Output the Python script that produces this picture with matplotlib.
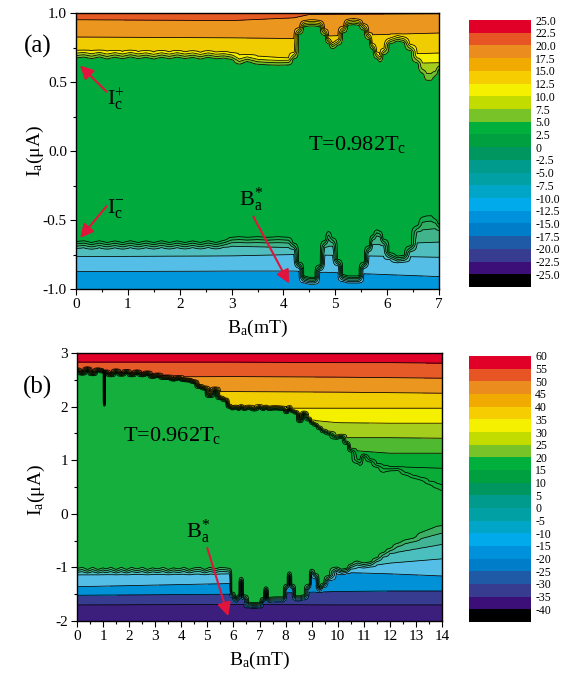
import numpy as np
import matplotlib
matplotlib.use('Agg')
import matplotlib.pyplot as plt
from matplotlib.colors import ListedColormap, BoundaryNorm
from matplotlib.ticker import MultipleLocator, FormatStrFormatter
import matplotlib.cm as cm

plt.rcParams['font.family'] = ['Liberation Serif', 'DejaVu Serif']
plt.rcParams['mathtext.fontset'] = 'custom'
plt.rcParams['mathtext.rm'] = 'Liberation Serif'
plt.rcParams['mathtext.it'] = 'Liberation Serif:italic'
plt.rcParams['axes.unicode_minus'] = False
plt.rcParams['contour.negative_linestyle'] = 'solid'

# ---------------- panel (a): T = 0.982 Tc ----------------
Ba_a = [0.0, 0.15, 0.3, 0.45, 0.6, 0.75, 0.9, 1.05, 1.2, 1.35,
        1.5, 1.65, 1.8, 1.95, 2.1, 2.25, 2.4, 2.55, 2.7, 2.85,
        3.0, 3.15, 3.3, 3.5, 3.7, 3.9, 4.1, 4.2, 4.3, 4.4,
        4.5, 4.6, 4.7, 4.8, 4.87, 4.95, 5.05, 5.15, 5.25, 5.35,
        5.45, 5.55, 5.65, 5.72, 5.8, 5.86, 5.93, 6.05, 6.2, 6.32,
        6.45, 6.58, 6.68, 6.76, 6.85, 6.93, 7.0]
# upper critical current (top edge of the zero-voltage region)
Ic_plus_a = [0.665, 0.672, 0.660, 0.673, 0.658, 0.671, 0.660, 0.673, 0.661, 0.670,
             0.658, 0.671, 0.660, 0.672, 0.661, 0.670, 0.658, 0.671, 0.660, 0.665,
             0.655, 0.62, 0.64, 0.62, 0.615, 0.613, 0.615, 0.66, 0.84, 0.895,
             0.90, 0.90, 0.895, 0.83, 0.77, 0.735, 0.76, 0.85, 0.905, 0.91,
             0.905, 0.87, 0.80, 0.73, 0.66, 0.637, 0.69, 0.77, 0.79, 0.78,
             0.72, 0.63, 0.55, 0.49, 0.49, 0.53, 0.58]
# lower critical current (bottom edge of the zero-voltage region)
Ic_minus_a = [-0.648, -0.642, -0.655, -0.642, -0.655, -0.643, -0.655, -0.642, -0.655, -0.643,
              -0.655, -0.642, -0.655, -0.643, -0.655, -0.643, -0.655, -0.642, -0.655, -0.64,
              -0.615, -0.61, -0.615, -0.61, -0.615, -0.61, -0.615, -0.66, -0.80, -0.90,
              -0.91, -0.91, -0.82, -0.64, -0.57, -0.62, -0.78, -0.89, -0.90, -0.90,
              -0.90, -0.80, -0.68, -0.60, -0.56, -0.57, -0.63, -0.73, -0.755, -0.75,
              -0.68, -0.53, -0.46, -0.45, -0.45, -0.48, -0.52]

# contour line positions in the resistive regions (read at a few fields)
top_B_a = [0.0, 3.0, 4.2, 4.5, 7.0]
top_levels_a = [5.0, 7.5, 10.0, 12.5, 15.0, 17.5, 20.0]
top_lines_a = [[0.645, 0.60, 0.58, 0.56, 0.48],
               [0.66, 0.62, 0.60, 0.59, 0.56],
               [0.68, 0.64, 0.62, 0.62, 0.64],
               [0.73, 0.70, 0.67, 0.68, 0.71],
               [0.826, 0.82, 0.815, 0.83, 0.855],
               [0.951, 0.945, 0.965, 0.99, 0.995],
               [1.10, 1.10, 1.10, 1.10, 1.10]]
bot_B_a = [0.0, 3.0, 4.2, 7.0]
bot_levels_a = [2.5, 0.0, -2.5, -5.0, -7.5, -10.0, -12.5]
bot_lines_a = [[-0.64, -0.60, -0.60, -0.44],
               [-0.66, -0.63, -0.63, -0.50],
               [-0.68, -0.66, -0.66, -0.56],
               [-0.70, -0.69, -0.70, -0.66],
               [-0.765, -0.76, -0.75, -0.77],
               [-0.874, -0.87, -0.87, -0.91],
               [-1.10, -1.10, -1.10, -1.10]]
cbar_ticks_a = [25.0, 22.5, 20.0, 17.5, 15.0, 12.5, 10.0, 7.5, 5.0, 2.5, 0,
                -2.5, -5.0, -7.5, -10.0, -12.5, -15.0, -17.5, -20.0, -22.5, -25.0]

# ---------------- panel (b): T = 0.962 Tc ----------------
Ba_b = [0.0, 0.2, 0.4, 0.6, 0.8, 1.0, 1.05, 1.1, 1.3, 1.5,
        1.7, 1.9, 2.1, 2.3, 2.5, 2.7, 2.9, 3.1, 3.3, 3.5,
        3.7, 3.9, 4.1, 4.3, 4.5, 4.7, 4.9, 5.1, 5.3, 5.5,
        5.7, 5.85, 5.95, 6.1, 6.2, 6.3, 6.4, 6.6, 6.8, 7.0,
        7.15, 7.25, 7.35, 7.6, 7.9, 8.05, 8.15, 8.25, 8.4, 8.55,
        8.7, 8.9, 9.0, 9.15, 9.3, 9.45, 9.65, 9.95, 10.15, 10.35,
        10.5, 10.75, 10.85, 11.0, 11.25, 11.5, 11.75, 12.0, 12.3, 12.6,
        12.9, 13.2, 13.5, 13.8, 14.0]
Ic_plus_b = [2.64, 2.58, 2.66, 2.57, 2.64, 2.62, 2.00, 2.60, 2.55, 2.62,
             2.56, 2.61, 2.55, 2.60, 2.55, 2.58, 2.52, 2.54, 2.50, 2.50,
             2.47, 2.49, 2.46, 2.45, 2.42, 2.33, 2.30, 2.16, 2.28, 2.12,
             2.08, 1.96, 1.93, 1.94, 1.92, 1.95, 1.92, 1.94, 1.91, 1.95,
             1.92, 1.94, 1.92, 1.93, 1.92, 1.86, 1.93, 1.88, 1.85, 1.69,
             1.84, 1.72, 1.66, 1.62, 1.56, 1.50, 1.46, 1.38, 1.40, 1.28,
             1.14, 0.92, 0.88, 1.05, 0.95, 0.85, 0.74, 0.78, 0.79, 0.70,
             0.64, 0.60, 0.52, 0.44, 0.39]
Ic_minus_b = [-1.00, -0.98, -1.02, -0.98, -1.02, -0.99, -1.00, -1.01, -0.98, -1.02,
              -0.98, -1.02, -0.98, -1.01, -0.98, -1.02, -0.99, -1.01, -0.98, -1.02,
              -0.99, -1.01, -0.98, -1.02, -0.99, -0.98, -1.02, -0.98, -1.01, -0.98,
              -0.99, -1.00, -1.45, -1.55, -1.50, -1.17, -1.50, -1.64, -1.65, -1.64,
              -1.55, -1.35, -1.55, -1.54, -1.54, -1.30, -1.07, -1.30, -1.52, -1.52,
              -1.50, -1.30, -1.02, -1.10, -1.35, -1.28, -1.14, -0.98, -1.02, -1.00,
              -0.92, -0.86, -0.88, -0.90, -0.88, -0.80, -0.70, -0.62, -0.52, -0.45,
              -0.42, -0.30, -0.24, -0.18, -0.17]

top_B_b = [0.0, 6.0, 10.0, 12.0, 14.0]
top_levels_b = [10, 15, 20, 25, 30, 35, 40, 45, 50, 55, 60]
top_lines_b = [[1.60, 1.60, 0.90, 0.50, 0.36],
               [1.70, 1.65, 1.00, 0.82, 0.54],
               [1.80, 1.70, 1.10, 0.88, 0.85],
               [1.90, 1.75, 1.20, 1.13, 1.13],
               [2.00, 1.80, 1.42, 1.42, 1.41],
               [2.10, 1.88, 1.70, 1.69, 1.69],
               [2.20, 1.97, 1.97, 1.97, 1.97],
               [2.30, 2.28, 2.27, 2.26, 2.25],
               [2.55, 2.56, 2.55, 2.54, 2.53],
               [2.83, 2.83, 2.82, 2.82, 2.81],
               [3.20, 3.20, 3.20, 3.20, 3.20]]
bot_B_b = [0.0, 6.0, 10.0, 12.0, 14.0]
bot_levels_b = [5, 0, -5, -10, -15, -20, -25, -30]
bot_lines_b = [[-0.98, -0.98, -0.95, -0.50, -0.12],
               [-1.02, -1.02, -1.00, -0.62, -0.36],
               [-1.06, -1.06, -1.03, -0.74, -0.57],
               [-1.14, -1.12, -1.06, -0.92, -0.84],
               [-1.36, -1.30, -1.09, -1.12, -1.16],
               [-1.52, -1.50, -1.45, -1.44, -1.44],
               [-1.70, -1.69, -1.70, -1.70, -1.70],
               [-2.20, -2.20, -2.20, -2.20, -2.20]]
cbar_ticks_b = [60, 55, 50, 45, 40, 35, 30, 25, 20, 15, 10, 5, 0,
                -5, -10, -15, -20, -25, -30, -35, -40]

# colours (bottom -> top)
cbar_colors = ['#000000', '#3c0f78', '#373c91', '#1e5aa5', '#007dc8', '#0091dc',
               '#00aaeb', '#00a5c8', '#00a0a5', '#009b8c', '#00965f', '#00a041',
               '#00af3c', '#78c328', '#c3dc00', '#f5f000', '#f5cd00', '#f0aa00',
               '#eb8c1e', '#e65523', '#e10028']
fill_a = ['#000000', '#3c1478', '#373c91', '#1e5aa5', '#007dc8', '#0082cd',
          '#0096dc', '#55bee6', '#50bebe', '#41b48c', '#32af64', '#14aa4b',
          '#00aa3c', '#6ebe2d', '#a5cd1e', '#f5f000', '#f0cd00', '#eb961e',
          '#e65a23', '#e63c28', '#e10028']
fill_b = ['#000000', '#3c1478', '#372882', '#3c1e7d', '#373c91', '#0091d7',
          '#55bee6', '#4bbebe', '#41b496', '#3caf64', '#14af3c', '#0fad3a',
          '#0aab37', '#05aa34', '#50b932', '#a5cd1e', '#f5f000', '#f0cd00',
          '#eb961e', '#e65a28', '#e10028']
red = '#e0143c'


def make_field(B, Ip, Im, I, tB, tlines, tvals, bB, blines, bvals,
               z_sc, step, d_top, d_bot):
    z_top_min = z_sc + step
    z_bot_max = z_sc - step
    tvals = np.array(tvals, float)
    bvals = np.array(bvals, float)[::-1]
    Z = np.full((len(I), len(B)), float(z_sc))
    for j, b in enumerate(B):
        tp = [np.interp(b, tB, row) for row in tlines]
        bp = [np.interp(b, bB, row) for row in blines][::-1]
        p, m = Ip[j], Im[j]
        up = np.maximum(np.interp(I, tp, tvals), z_top_min)
        zt = max(np.interp(p + d_top, tp, tvals), z_top_min)
        ramp_t = z_sc + (zt - z_sc) * np.clip((I - p) / d_top, 0, 1)
        top = np.where(I > p + d_top, up, ramp_t)
        dn = np.minimum(np.interp(I, bp, bvals), z_bot_max)
        zb = min(np.interp(m - d_bot, bp, bvals), z_bot_max)
        ramp_b = z_sc + (zb - z_sc) * np.clip((m - I) / d_bot, 0, 1)
        bot = np.where(I < m - d_bot, dn, ramp_b)
        Z[:, j] = np.where(I >= p, top, np.where(I <= m, bot, z_sc))
    return Z


I_a = np.linspace(-1, 1, 1001)
I_b = np.linspace(-2, 3, 1251)
Z_a = make_field(Ba_a, Ic_plus_a, Ic_minus_a, I_a, top_B_a, top_lines_a, top_levels_a,
                 bot_B_a, bot_lines_a, bot_levels_a, 3.75, 2.5, 0.06, 0.06)
Z_b = make_field(Ba_b, Ic_plus_b, Ic_minus_b, I_b, top_B_b, top_lines_b, top_levels_b,
                 bot_B_b, bot_lines_b, bot_levels_b, 7.5, 5.0, 0.09, 0.12)

levels_a = [min(cbar_ticks_a) - 2.5] + sorted(cbar_ticks_a)
levels_b = [min(cbar_ticks_b) - 5] + sorted(cbar_ticks_b)

W, H = 569, 673
fig = plt.figure(figsize=(W / 100, H / 100), dpi=100)
ax_a = fig.add_axes([76 / W, 1 - 289 / H, 363 / W, 276 / H])
cax_a = fig.add_axes([469 / W, 1 - 287 / H, 62 / W, 267 / H])
ax_b = fig.add_axes([77 / W, 1 - 621 / H, 365 / W, 268 / H])
cax_b = fig.add_axes([469 / W, 1 - 622 / H, 62 / W, 266 / H])

for ax, B, I, Z, lev, fc in [(ax_a, Ba_a, I_a, Z_a, levels_a, fill_a),
                             (ax_b, Ba_b, I_b, Z_b, levels_b, fill_b)]:
    ax.contourf(B, I, Z, levels=lev, colors=fc)
    ax.contour(B, I, Z, levels=lev, colors='k', linewidths=0.55,
               linestyles='solid')
    ax.tick_params(which='both', direction='out', top=False, right=False,
                   labelsize=11, width=0.8, pad=2)
    ax.tick_params(which='major', length=4.5)
    ax.tick_params(which='minor', length=2.5)
    for s in ax.spines.values():
        s.set_linewidth(1.0)

ax_a.set_xlim(0, 7)
ax_a.set_ylim(-1, 1)
ax_a.xaxis.set_major_locator(MultipleLocator(1))
ax_a.xaxis.set_minor_locator(MultipleLocator(0.5))
ax_a.yaxis.set_major_locator(MultipleLocator(0.5))
ax_a.yaxis.set_minor_locator(MultipleLocator(0.25))
ax_a.yaxis.set_major_formatter(FormatStrFormatter('%.1f'))

ax_b.set_xlim(0, 14)
ax_b.set_ylim(-2, 3)
ax_b.xaxis.set_major_locator(MultipleLocator(1))
ax_b.xaxis.set_minor_locator(MultipleLocator(0.5))
ax_b.yaxis.set_major_locator(MultipleLocator(1))
ax_b.yaxis.set_minor_locator(MultipleLocator(0.5))

# colour scales
for cax, lev, ticks, fmt in [(cax_a, levels_a, cbar_ticks_a, 'a'),
                             (cax_b, levels_b, cbar_ticks_b, 'b')]:
    sm = cm.ScalarMappable(norm=BoundaryNorm(lev, len(cbar_colors)),
                           cmap=ListedColormap(cbar_colors))
    cb = fig.colorbar(sm, cax=cax, ticks=ticks)
    cb.outline.set_visible(False)
    cb.ax.minorticks_off()
    cb.ax.tick_params(length=0, pad=3, labelsize=8.5)
    if fmt == 'a':
        labels = ['0' if t == 0 else '%.1f' % t for t in ticks]
    else:
        labels = ['%d' % t for t in ticks]
    cb.set_ticklabels(labels)

# labels
fig.text(38 / W, 1 - 46 / H, '(a)', fontsize=18, ha='center', va='center')
fig.text(38 / W, 1 - 387 / H, '(b)', fontsize=18, ha='center', va='center')
fig.text(257.5 / W, 1 - 333 / H, r'B$_{\rm a}$(mT)', fontsize=14, ha='center', va='baseline')
fig.text(259.5 / W, 1 - 665 / H, r'B$_{\rm a}$(mT)', fontsize=14, ha='center', va='baseline')
fig.text(35 / W, 1 - 151 / H, r'I$_{\rm a}$(μA)', fontsize=14, rotation=90, ha='center', va='center')
fig.text(36 / W, 1 - 490 / H, r'I$_{\rm a}$(μA)', fontsize=14, rotation=90, ha='center', va='center')

ax_a.text(4.47, 0.01, r'T=0.982T$_{\rm c}$', fontsize=16, va='baseline')
ax_b.text(1.77, 1.35, r'T=0.962T$_{\rm c}$', fontsize=16, va='baseline')

ax_a.text(0.60, 0.33, r'I$_{\rm c}^{+}$', fontsize=16, va='baseline')
ax_a.text(0.60, -0.45, r'I$_{\rm c}^{-}$', fontsize=16, va='baseline')
ax_a.text(3.15, -0.40, r'B$_{\rm a}^{*}$', fontsize=16, va='baseline')
ax_b.text(4.17, -0.45, r'B$_{\rm a}^{*}$', fontsize=16, va='baseline')

arrow = dict(arrowstyle='-|>,head_length=0.8,head_width=0.4', color=red, lw=1.5,
             shrinkA=0, shrinkB=0, mutation_scale=10)
ax_a.annotate('', xy=(0.077, 0.62), xytext=(0.59, 0.43), arrowprops=arrow)
ax_a.annotate('', xy=(0.08, -0.63), xytext=(0.59, -0.40), arrowprops=arrow)
ax_a.annotate('', xy=(4.11, -0.96), xytext=(3.42, -0.475), arrowprops=arrow)
ax_b.annotate('', xy=(5.80, -1.91), xytext=(5.0, -0.64), arrowprops=arrow)

fig.savefig('out.png', dpi=100)
